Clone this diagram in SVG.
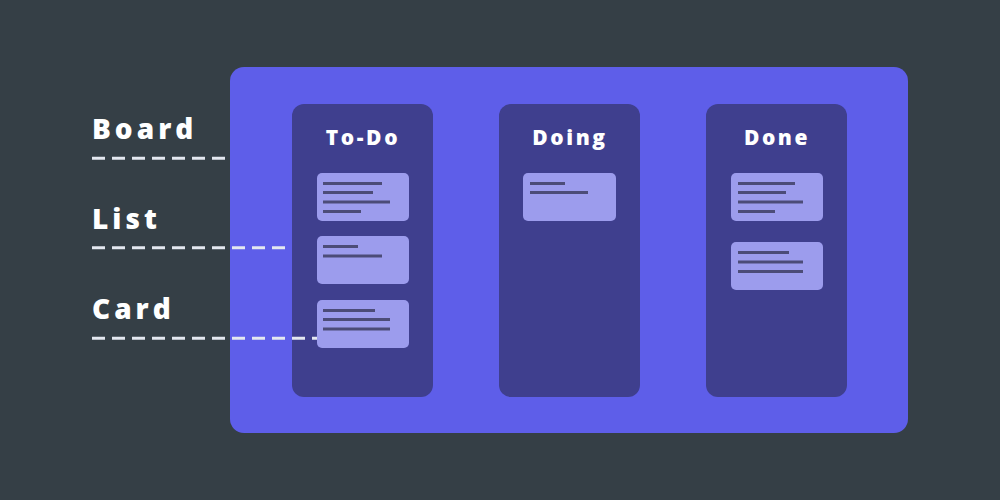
<svg xmlns="http://www.w3.org/2000/svg" width="1000" height="500" viewBox="0 0 1000 500">
<style>
.lbl{font-family:"Open Sans","Liberation Sans",sans-serif;font-weight:800;fill:#ffffff}
.side{font-size:28px;letter-spacing:4px}
.title{font-size:21px;letter-spacing:2.6px;text-anchor:middle}
.list{fill:#3f3f8e}
.card{fill:#9c9ced}
.ln{stroke:#4c4c78;stroke-width:3;stroke-linecap:butt}
.dash{stroke:#e4e8f0;stroke-width:3;stroke-dasharray:13 7;fill:none}
</style>
<rect width="1000" height="500" fill="#353f46"/>
<g id="board">
<rect x="230" y="67" width="678" height="366" rx="14" fill="#5e5ee9"/>
</g>
<g id="list-todo">
<rect class="list" x="292" y="104" width="141" height="293" rx="12"/>
<text class="lbl title" x="363" y="145">To-Do</text>
</g>
<g id="list-doing">
<rect class="list" x="499" y="104" width="141" height="293" rx="12"/>
<text class="lbl title" x="570" y="145">Doing</text>
</g>
<g id="list-done">
<rect class="list" x="706" y="104" width="141" height="293" rx="12"/>
<text class="lbl title" x="777" y="145">Done</text>
</g>
<g id="card-todo-1">
<rect class="card" x="317" y="173" width="92" height="48" rx="5"/>
<line class="ln" x1="323" y1="183.5" x2="382" y2="183.5"/>
<line class="ln" x1="323" y1="192.5" x2="373" y2="192.5"/>
<line class="ln" x1="323" y1="202" x2="390" y2="202"/>
<line class="ln" x1="323" y1="211.5" x2="361" y2="211.5"/>
</g>
<g id="card-todo-2">
<rect class="card" x="317" y="236" width="92" height="48" rx="5"/>
<line class="ln" x1="323" y1="246.5" x2="358" y2="246.5"/>
<line class="ln" x1="323" y1="256" x2="382" y2="256"/>
</g>
<g id="card-todo-3">
<rect class="card" x="317" y="300" width="92" height="48" rx="5"/>
<line class="ln" x1="323" y1="310.5" x2="375" y2="310.5"/>
<line class="ln" x1="323" y1="319.5" x2="390" y2="319.5"/>
<line class="ln" x1="323" y1="329" x2="390" y2="329"/>
</g>
<g id="card-doing-1">
<rect class="card" x="523" y="173" width="93" height="48" rx="5"/>
<line class="ln" x1="530" y1="183.5" x2="565" y2="183.5"/>
<line class="ln" x1="530" y1="192.5" x2="588" y2="192.5"/>
</g>
<g id="card-done-1">
<rect class="card" x="731" y="173" width="92" height="48" rx="5"/>
<line class="ln" x1="738" y1="183.5" x2="795" y2="183.5"/>
<line class="ln" x1="738" y1="192.5" x2="786" y2="192.5"/>
<line class="ln" x1="738" y1="202" x2="803" y2="202"/>
<line class="ln" x1="738" y1="211.5" x2="775" y2="211.5"/>
</g>
<g id="card-done-2">
<rect class="card" x="731" y="242" width="92" height="48" rx="5"/>
<line class="ln" x1="738" y1="252.5" x2="789" y2="252.5"/>
<line class="ln" x1="738" y1="262" x2="803" y2="262"/>
<line class="ln" x1="738" y1="271.5" x2="803" y2="271.5"/>
</g>
<g id="label-board">
<text class="lbl side" x="92" y="139">Board</text>
</g>
<g id="label-list">
<text class="lbl side" x="92" y="229">List</text>
</g>
<g id="label-card">
<text class="lbl side" x="92" y="319">Card</text>
</g>
<g id="connectors">
<line class="dash" x1="92" y1="158.3" x2="226" y2="158.3"/>
<line class="dash" x1="92" y1="247.7" x2="286" y2="247.7"/>
<line class="dash" x1="92" y1="338.3" x2="317" y2="338.3"/>
</g>
</svg>
